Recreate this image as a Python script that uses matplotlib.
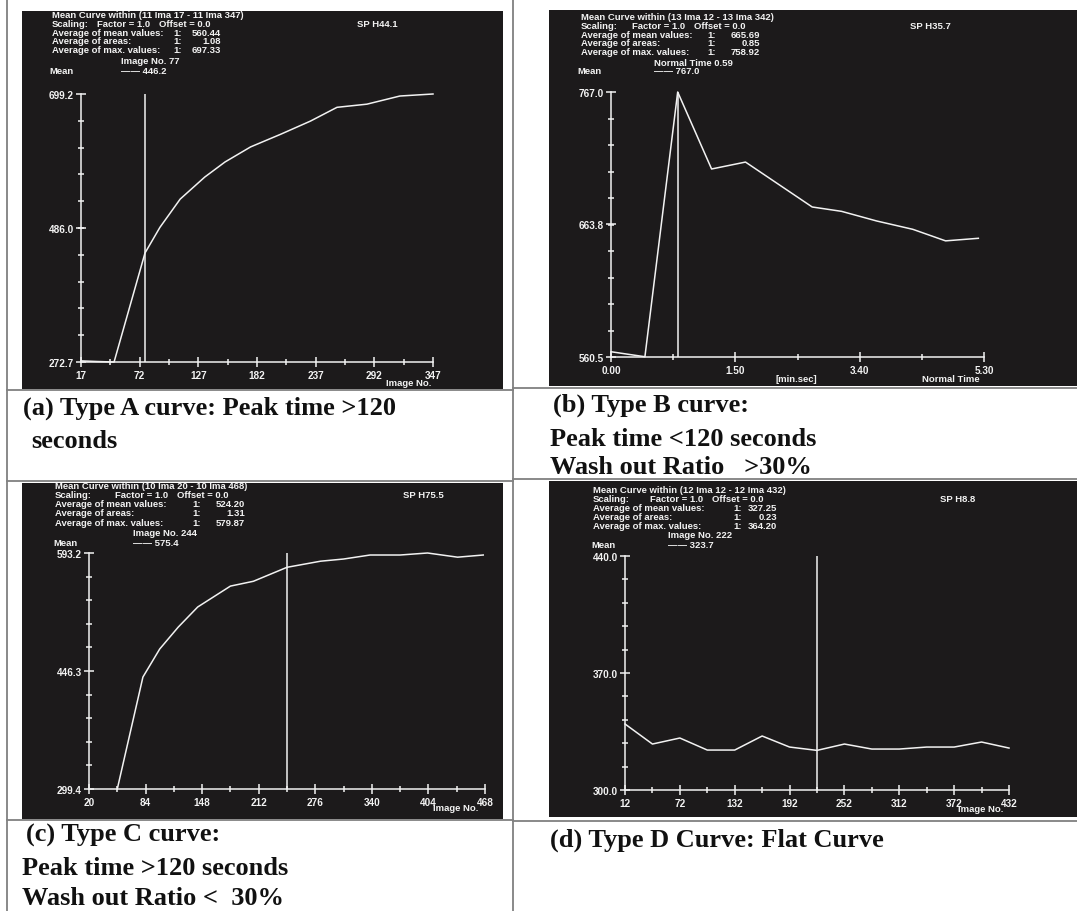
import numpy as np
import matplotlib.pyplot as plt
from matplotlib.patches import Rectangle
from matplotlib.lines import Line2D

# ---- data ----
# (a) Type A
img_a = [17, 32, 48, 77, 91, 110, 133, 152, 176, 204, 232, 257, 285, 316, 347]
mean_a = [274.5, 273.5, 272.7, 446.2, 487, 532, 567, 591, 615, 635, 656, 678, 683, 696, 699.2]
xt_a = [17, 72, 127, 182, 237, 292, 347]
yt_a = [272.7, 486.0, 699.2]

# (b) Type B, x in seconds, labels in min.sec
time_b = [0, 30, 59, 89, 119, 178, 204, 235, 267, 296, 325]
mean_b = [564.6, 560.7, 767.0, 707, 712.4, 677.4, 674, 666.5, 660, 651, 653]
xt_b = [0, 110, 220, 330]
xt_b_labels = ['0.00', '1.50', '3.40', '5.30']
yt_b = [560.5, 663.8, 767.0]

# (c) Type C
img_c = [52, 81, 100, 121, 143, 180, 206, 244, 282, 308, 338, 372, 403, 437, 466]
mean_c = [299.4, 438.8, 473.7, 501, 526, 552, 558, 575.4, 583, 585.7, 590.7, 590.7, 593.2, 588, 590.7]
xt_c = [20, 84, 148, 212, 276, 340, 404, 468]
yt_c = [299.4, 446.3, 593.2]

# (d) Type D
img_d = [12, 42, 72, 102, 132, 162, 192, 222, 252, 282, 312, 342, 372, 402, 432]
mean_d = [339.5, 327.5, 331.1, 323.9, 323.9, 332.3, 325.7, 323.7, 327.5, 324.5, 324.5,
          325.7, 325.7, 328.7, 325.1]
xt_d = [12, 72, 132, 192, 252, 312, 372, 432]
yt_d = [300.0, 370.0, 440.0]

W, H = 1077, 912
BG = '#1c1a1b'
FG = '#f2f2f2'
SANS = 'Liberation Sans'
SERIF = 'Liberation Serif'
HSIZE = 6.8

fig = plt.figure(figsize=(W / 100, H / 100), dpi=100)
fig.patch.set_facecolor('white')


def fbox(x0, y0, x1, y1):
    return [x0 / W, 1 - y1 / H, (x1 - x0) / W, (y1 - y0) / H]


def txt(x, y, s, size=HSIZE, ha='left', family=SANS, color=FG):
    fig.text(x / W, 1 - y / H, s, color=color, fontsize=size, fontweight='bold',
             family=family, ha=ha, va='center')


def hline(y, x0, x1):
    fig.add_artist(Line2D([x0 / W, x1 / W], [1 - y / H, 1 - y / H], color='#808080', lw=1.3))


def vline(x, y0, y1):
    fig.add_artist(Line2D([x / W, x / W], [1 - y0 / H, 1 - y1 / H], color='#808080', lw=1.3))


def panel(bg, ax_box, x, y, xt, yt, marker, xlabels=None):
    fig.add_artist(Rectangle((bg[0] / W, 1 - bg[3] / H), (bg[2] - bg[0]) / W,
                             (bg[3] - bg[1]) / H, transform=fig.transFigure,
                             facecolor=BG, edgecolor='none', zorder=0))
    ax = fig.add_axes(fbox(*ax_box))
    ax.patch.set_visible(False)
    ax.plot(x, y, color=FG, lw=1.1, clip_on=False)
    ax.axvline(marker, color=FG, lw=1.1)
    ax.set_xlim(xt[0], xt[-1])
    ax.set_ylim(yt[0], yt[-1])
    for s in ['top', 'right']:
        ax.spines[s].set_visible(False)
    for s in ['left', 'bottom']:
        ax.spines[s].set_color(FG)
        ax.spines[s].set_linewidth(1.1)
    ax.set_xticks(xt)
    ax.set_xticklabels(xlabels if xlabels else [str(v) for v in xt])
    ax.set_xticks((np.array(xt[:-1]) + np.array(xt[1:])) / 2, minor=True)
    ax.set_yticks(yt)
    ax.set_yticklabels(['%.1f' % v for v in yt])
    ax.set_yticks(np.linspace(yt[0], yt[-1], 11), minor=True)
    ax.tick_params(which='major', direction='inout', length=7, width=1.1, colors=FG,
                   labelsize=7.2)
    ax.tick_params(which='minor', direction='inout', length=5, width=1.1, colors=FG)
    ax.tick_params(axis='x', pad=2.5)
    ax.tick_params(axis='y', pad=1.5)
    for lab in ax.get_xticklabels() + ax.get_yticklabels():
        lab.set_family(SANS)
        lab.set_fontweight('bold')
    return ax


def header(x0, y0, dy, title, vals, sp, sp_x, off_x, one_x, val_x, mark_x, mark_y,
           mark_label, mark_val, mean_x):
    txt(x0, y0, title)
    txt(x0, y0 + dy, 'Scaling:')
    txt(off_x - 9, y0 + dy, 'Factor = 1.0', ha='right')
    txt(off_x, y0 + dy, 'Offset = 0.0')
    names = ['Average of mean values:', 'Average of areas:', 'Average of max. values:']
    for i, (n, v) in enumerate(zip(names, vals)):
        yy = y0 + dy * (i + 2)
        txt(x0, yy, n)
        txt(one_x, yy, '1:')
        txt(val_x, yy, v, ha='right')
    txt(sp_x, y0 + dy, sp)
    txt(mark_x, mark_y, mark_label)
    txt(mark_x, mark_y + 9, '\u2014\u2014 ' + mark_val)
    txt(mean_x, mark_y + 9, 'Mean')


# ---- table lines ----
vline(7, 0, 912)
vline(513, 0, 912)
hline(391, 7, 513)
hline(482, 7, 513)
hline(821, 7, 513)
hline(389, 513, 1077)
hline(480, 513, 1077)
hline(822, 513, 1077)

# ---- panel a ----
panel((22, 12, 503, 390), (81, 95, 433, 363), img_a, mean_a, xt_a, yt_a, 77)
header(52, 16, 8.6, 'Mean Curve within (11 Ima 17 - 11 Ima 347)', ['560.44', '1.08', '697.33'],
       'SP H44.1', 357, 159, 173, 221, 121, 62, 'Image No. 77', '446.2', 49)
txt(386, 384, 'Image No.')

# ---- panel b ----
panel((549, 11, 1077, 387), (611, 93, 984, 358), time_b, mean_b, xt_b, yt_b, 59,
      xlabels=xt_b_labels)
header(581, 18, 8.6, 'Mean Curve within (13 Ima 12 - 13 Ima 342)', ['665.69', '0.85', '758.92'],
       'SP H35.7', 910, 694, 707, 760, 654, 63, 'Normal Time 0.59', '767.0', 577)
txt(776, 379, '[min.sec]')
txt(922, 379, 'Normal Time')

# ---- panel c ----
panel((22, 484, 503, 820), (89, 554, 485, 790), img_c, mean_c, xt_c, yt_c, 244)
header(55, 487, 9, 'Mean Curve within (10 Ima 20 - 10 Ima 468)', ['524.20', '1.31', '579.87'],
       'SP H75.5', 403, 177, 192, 245, 133, 534, 'Image No. 244', '575.4', 53)
txt(433, 809, 'Image No.')

# ---- panel d ----
panel((549, 482, 1077, 818), (625, 557, 1009, 791), img_d, mean_d, xt_d, yt_d, 222)
header(593, 491, 8.8, 'Mean Curve within (12 Ima 12 - 12 Ima 432)', ['327.25', '0.23', '364.20'],
       'SP H8.8', 940, 712, 733, 777, 668, 536, 'Image No. 222', '323.7', 591)
txt(958, 810, 'Image No.')

# ---- captions ----
cap = dict(size=19, family=SERIF, color='#111111')
txt(23, 408, '(a) Type A curve: Peak time >120', **cap)
txt(31, 442, 'seconds', **cap)
txt(553, 405, '(b) Type B curve:', **cap)
txt(550, 440, 'Peak time <120 seconds', **cap)
txt(550, 468, 'Wash out Ratio   >30%', **cap)
txt(26, 835, '(c) Type C curve:', **cap)
txt(22, 869, 'Peak time >120 seconds', **cap)
txt(22, 899, 'Wash out Ratio <  30%', **cap)
txt(550, 840, '(d) Type D Curve: Flat Curve', **cap)

fig.savefig('out.png', dpi=100, facecolor='white')
